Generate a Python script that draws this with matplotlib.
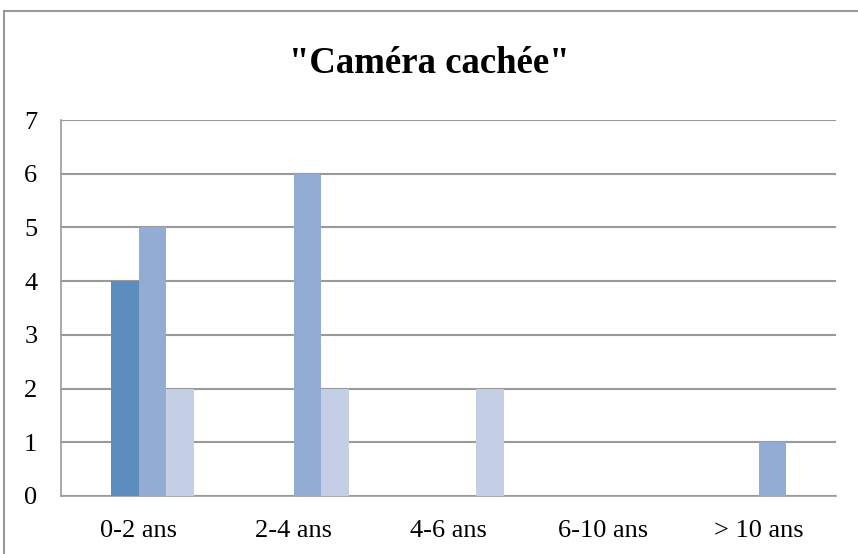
import numpy as np
import matplotlib.pyplot as plt
from matplotlib.patches import Rectangle

categories = ['0-2 ans', '2-4 ans', '4-6 ans', '6-10 ans', '> 10 ans']
serie0 = [0, 0, 0, 0, 0]
serie1 = [4, 0, 0, 0, 0]
serie2 = [5, 6, 0, 0, 1]
serie3 = [2, 2, 2, 0, 0]
series = [serie0, serie1, serie2, serie3]
colors = ['#4F81BD', '#5B8DBF', '#93ACD4', '#C4CEE4']

plt.rcParams['font.family'] = ['Liberation Serif', 'DejaVu Serif']

fig = plt.figure(figsize=(8.58, 5.54), dpi=100)
ax = fig.add_axes([61 / 858, 1 - 496 / 554, 775 / 858, 376 / 554])

x = np.arange(len(categories))
w = 0.18
for i, vals in enumerate(series):
    ax.bar(x + (i - 1.5) * w, vals, width=w, color=colors[i], zorder=3)

ax.set_xlim(-0.5, len(categories) - 0.5)
ax.set_ylim(0, 7)
ax.set_yticks(range(8))
ax.set_xticks(x)
ax.set_xticklabels(categories)
ax.yaxis.grid(True, color='#999999', linewidth=1.5, zorder=0)
for s in ['top', 'right']:
    ax.spines[s].set_visible(False)
for s in ['left', 'bottom']:
    ax.spines[s].set_color('#999999')
    ax.spines[s].set_linewidth(1.2)
ax.tick_params(axis='y', length=0, labelsize=19, pad=17)
ax.tick_params(axis='x', length=0, labelsize=19, pad=17)

fig.text(0.5, 1 - 63 / 554, '"Caméra cachée"', ha='center', va='center',
         fontsize=26.5, fontweight='bold')

fig.patches.append(Rectangle((4 / 858, -0.05), 1.1, 1 - 11 / 554 + 0.05,
                             transform=fig.transFigure, fill=False,
                             edgecolor='#999999', linewidth=1.5))

fig.savefig('out.png', dpi=100)
